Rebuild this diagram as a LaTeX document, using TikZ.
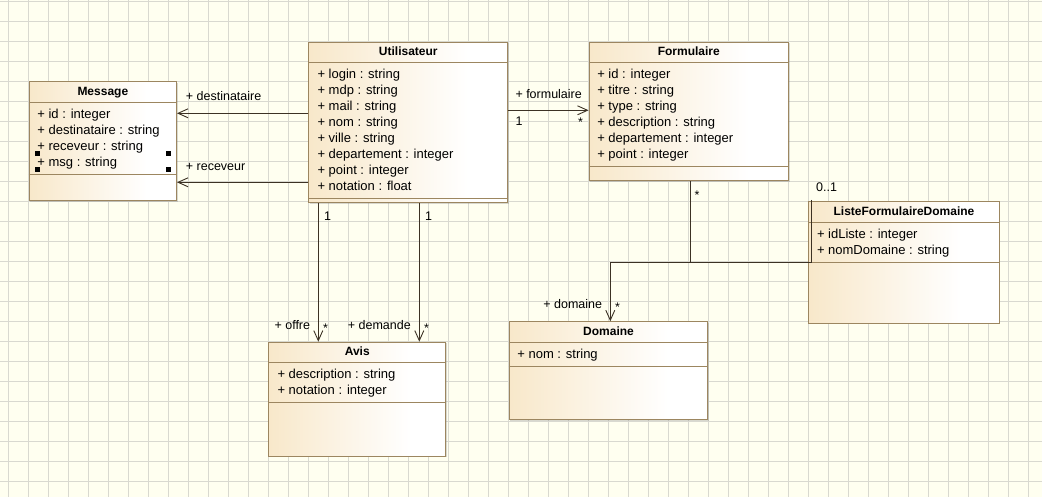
\documentclass[tikz,border=0pt]{standalone}
\usepackage{fontspec}
\setmainfont{Liberation Sans}
\usetikzlibrary{arrows.meta,shadows}

\definecolor{paper}{HTML}{FFFFF0}
\definecolor{gridgray}{HTML}{D9D9D0}
\definecolor{classborder}{HTML}{9C8660}
\definecolor{classtan}{HTML}{F8E8CA}
\definecolor{linkcolor}{HTML}{3C3224}
\pgfdeclarehorizontalshading{classfade}{100bp}{color(0bp)=(classtan); color(25bp)=(classtan); color(65bp)=(white); color(100bp)=(white)}

\begin{document}
\begin{tikzpicture}[x=1pt, y=-1pt,
		class node/.style={draw=classborder, line width=1pt, shading=classfade, shading angle=0,
			anchor=north west, inner sep=0pt,
			drop shadow={shadow xshift=1.2pt, shadow yshift=-1.2pt, opacity=0.3}},
		title node/.style={font=\fontsize{12}{14}\selectfont\bfseries, anchor=base, inner sep=0pt},
		attr node/.style={font=\fontsize{13}{16}\selectfont, anchor=base west, inner sep=0pt},
		role node/.style={font=\fontsize{12.5}{15}\selectfont, anchor=base west, inner sep=0pt},
		class line/.style={draw=classborder, line width=1pt},
		assoc/.style={draw=linkcolor, line width=0.9pt},
		nav/.style={assoc, -{Straight Barb[length=10pt,width=9pt]}}]
	
	\useasboundingbox (0,0) rectangle (1042,497);
	\fill[paper] (0,0) rectangle (1042,497);
	\foreach \x in {8,28,...,1028}
	\draw[gridgray, line width=0.8pt] (\x,0) -- (\x,497);
	\foreach \y in {1,21,...,481}
	\draw[gridgray, line width=0.8pt] (0,\y) -- (1042,\y);
	
	% classes
	\node[class node, minimum width=147.3pt, minimum height=119pt] (message) at (28.7,81.3) {};
	\node[class node, minimum width=199pt, minimum height=160.6pt] (user) at (308.3,41.7) {};
	\node[class node, minimum width=199.4pt, minimum height=138.6pt] (formulaire) at (588.6,41.7) {};
	\node[class node, minimum width=190.4pt, minimum height=121.4pt] (liste) at (808.3,201.3) {};
	\node[class node, minimum width=198.6pt, minimum height=98pt] (domaine) at (508.7,321.3) {};
	\node[class node, minimum width=177pt, minimum height=114pt] (avis) at (268.3,341.7) {};
	
	\node[title node] (message-title) at ([yshift=-14pt]message.north) {Message};
	\node[title node] (user-title) at ([yshift=-14pt]user.north) {Utilisateur};
	\node[title node] (formulaire-title) at ([yshift=-14pt]formulaire.north) {Formulaire};
	\node[title node] (liste-title) at ([yshift=-14pt]liste.north) {ListeFormulaireDomaine};
	\node[title node] (domaine-title) at ([yshift=-14pt]domaine.north) {Domaine};
	\node[title node] (avis-title) at ([yshift=-14pt]avis.north) {Avis};
	
	\draw[class line] ([yshift=-21pt]message.north west) -- ([yshift=-21pt]message.north east);
	\draw[class line] ([yshift=-93pt]message.north west) -- ([yshift=-93pt]message.north east);
	\draw[class line] ([yshift=-21pt]user.north west) -- ([yshift=-21pt]user.north east);
	\draw[class line] ([yshift=-156.6pt]user.north west) -- ([yshift=-156.6pt]user.north east);
	\draw[class line] ([yshift=-21pt]formulaire.north west) -- ([yshift=-21pt]formulaire.north east);
	\draw[class line] ([yshift=-124.6pt]formulaire.north west) -- ([yshift=-124.6pt]formulaire.north east);
	\draw[class line] ([yshift=-21pt]liste.north west) -- ([yshift=-21pt]liste.north east);
	\draw[class line] ([yshift=-61pt]liste.north west) -- ([yshift=-61pt]liste.north east);
	\draw[class line] ([yshift=-21pt]domaine.north west) -- ([yshift=-21pt]domaine.north east);
	\draw[class line] ([yshift=-45.4pt]domaine.north west) -- ([yshift=-45.4pt]domaine.north east);
	\draw[class line] ([yshift=-21pt]avis.north west) -- ([yshift=-21pt]avis.north east);
	\draw[class line] ([yshift=-60.6pt]avis.north west) -- ([yshift=-60.6pt]avis.north east);
	
	% attributes
	\foreach \attr [count=\i] in {+ id : integer, + destinataire : string, + receveur : string, + msg : string}
	\node[attr node] (message-\i) at ([shift={(8.5pt,{-21pt-16pt*\i})}]message.north west) {\attr};
	\foreach \attr [count=\i] in {+ login : string, + mdp : string, + mail : string, + nom : string,
		+ ville : string, + departement : integer, + point : integer, + notation : float}
	\node[attr node] (user-\i) at ([shift={(9pt,{-21pt-16pt*\i})}]user.north west) {\attr};
	\foreach \attr [count=\i] in {+ id : integer, + titre : string, + type : string,
		+ description : string, + departement : integer, + point : integer}
	\node[attr node] (formulaire-\i) at ([shift={(8.5pt,{-21pt-16pt*\i})}]formulaire.north west) {\attr};
	\foreach \attr [count=\i] in {+ idListe : integer, + nomDomaine : string}
	\node[attr node] (liste-\i) at ([shift={(8.5pt,{-21pt-16pt*\i})}]liste.north west) {\attr};
	\foreach \attr [count=\i] in {+ nom : string}
	\node[attr node] (domaine-\i) at ([shift={(8.5pt,{-21pt-16pt*\i})}]domaine.north west) {\attr};
	\foreach \attr [count=\i] in {+ description : string, + notation : integer}
	\node[attr node] (avis-\i) at ([shift={(9pt,{-21pt-16pt*\i})}]avis.north west) {\attr};
	
	% selection handles
	\fill (34.5,151.5) rectangle +(5,5);
	\fill (34.5,167) rectangle +(5,5);
	\fill (165.5,151.5) rectangle +(5,5);
	\fill (165.5,167) rectangle +(5,5);
	
	% associations
	\coordinate (dest) at ([yshift=-71.6pt]user.north west);
	\coordinate (recv) at ([yshift=-140.6pt]user.north west);
	\coordinate (form-link) at ([yshift=-68.6pt]user.north east);
	\coordinate (offre) at ([xshift=10pt]user.south west);
	\coordinate (demande) at ([xshift=111pt]user.south west);
	\coordinate (form-end) at ([xshift=102.3pt]formulaire.south west);
	\coordinate (liste-end) at ([xshift=3.4pt,yshift=1.3pt]liste.north west);
	\coordinate (dom-end) at ([xshift=101.6pt]domaine.north west);
	
	\draw[nav] (dest) -- (dest -| message.east);
	\draw[nav] (recv) -- (recv -| message.east);
	\draw[nav] (form-link) -- (form-link -| formulaire.west);
	\draw[nav] (offre) -- (offre |- avis.north);
	\draw[nav] (demande) -- (demande |- avis.north);
	\draw[assoc] (form-end) -- (form-end |- liste.west);
	\draw[assoc] (liste-end) -- (liste-end |- liste.west) -- (dom-end |- liste.west);
	\draw[nav] (dom-end |- liste.west) -- (dom-end);
	
	% roles and multiplicities
	\node[role node] (dest-role) at (185.7,101) {+ destinataire};
	\node[role node] (recv-role) at (185.7,170.3) {+ receveur};
	\node[role node] (form-role) at (515.3,98.3) {+ formulaire};
	\node[role node] (form-one) at (515.3,126) {1};
	\node[role node] (form-many) at (577.8,127) {*};
	\node[role node] (offre-one) at (324,220.7) {1};
	\node[role node] (demande-one) at (425,220.7) {1};
	\node[role node, anchor=base east] (offre-role) at (310.3,330) {+ offre};
	\node[role node] (offre-many) at (323,332) {*};
	\node[role node, anchor=base east] (demande-role) at (411,330) {+ demande};
	\node[role node] (demande-many) at (424,332) {*};
	\node[role node] (formdom-many) at (694.5,199.5) {*};
	\node[role node] (liste-mult) at (816,191.7) {0..1};
	\node[role node, anchor=base east] (dom-role) at (602.3,308.5) {+ domaine};
	\node[role node] (dom-many) at (615,311.5) {*};
\end{tikzpicture}
\end{document}
